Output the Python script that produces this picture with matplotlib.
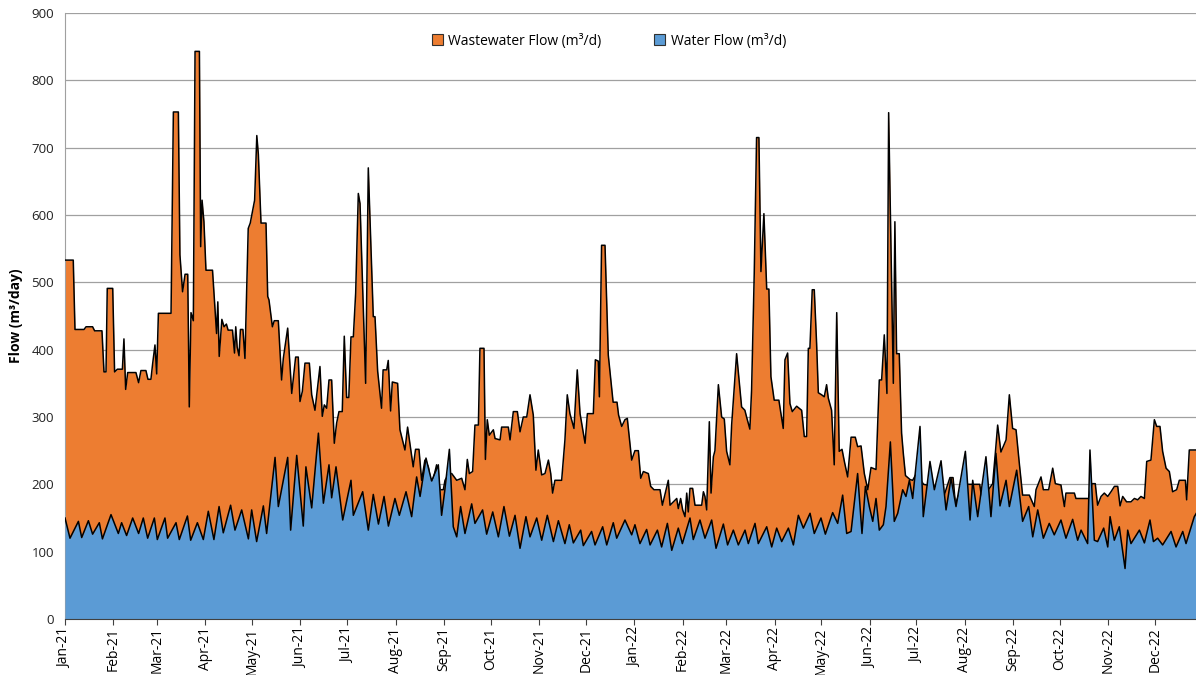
import pandas as pd
import matplotlib.pyplot as plt
import matplotlib.dates as mdates
from matplotlib.patches import Patch

plt.rcParams["font.family"] = ["Open Sans", "DejaVu Sans"]

# days since 2021-01-01 (m3/d)
ww_day = [
    0, 5.3, 6.4, 12.2, 13.5, 17.7, 19, 23.7, 25, 26.3, 27.1, 30.6, 31.8, 33.6, 36.8, 37.8,
    38.9, 40.2, 45.5, 47.2, 48.7, 51.9, 53.2, 55.1, 56.2, 57.7, 58.8, 59.9, 68, 69.5, 72.7,
    73.7, 75.4, 77, 78.7, 79.7, 80.8, 82.3, 83.4, 86.2, 87, 87.9, 89.1, 90.4, 94.6, 97.2, 98,
    98.9, 100.6, 102, 103.5, 104.6, 107.4, 108.7, 109.5, 110.4, 111.6, 112.5, 114.1, 115.4,
    117.5, 118.8, 121.6, 123, 124, 125.7, 128.9, 130, 130.8, 133, 134.2, 136.8, 138.9, 140,
    142.8, 145.4, 147.9, 149.6, 150.7, 152.2, 153.9, 156.7, 158.2, 160.3, 163.5, 165, 166.3,
    167.8, 169.3, 171, 172.7, 174.2, 175.7, 177.8, 179.1, 180.6, 182, 183.4, 184.9, 186.4,
    188.1, 189.2, 192.8, 194.5, 197.7, 198.8, 200.5, 203, 204, 206.3, 207.3, 208.8, 209.9,
    213.3, 214.8, 218, 219.7, 223.3, 224.8, 227, 228.7, 230.8, 233, 235.1, 238.3, 240.5,
    242.6, 243.7, 246, 248, 251.2, 254.4, 256.5, 258, 259.3, 261.4, 262.9, 265.1, 266.1,
    268.7, 269.6, 270.8, 272.1, 274.7, 275.8, 279, 280, 284.3, 285.4, 287.5, 290.1, 291.8,
    293.9, 296.1, 298.2, 300.3, 302, 303.5, 305.7, 307.8, 310, 311.5, 312.7, 314.2, 318.5,
    320.6, 322.1, 323.8, 326.4, 328.5, 330.3, 333.5, 335, 338.8, 340.1, 342, 342.7, 344.1,
    346.3, 348.4, 351.5, 354, 355, 357, 359.1, 360.6, 363.4, 365.5, 367.7, 369.2, 370.9,
    374.1, 375.6, 377.7, 381.6, 383.1, 386.9, 388, 392.3, 393.3, 394.8, 396.1, 397.6, 398.7,
    399.7, 400.8, 402.5, 404, 408.3, 409.4, 410.4, 411.5, 413.2, 414.3, 415.8, 416.8, 419,
    421.1, 422.8, 424.3, 426.4, 427.5, 430.7, 433.9, 436, 437.1, 439.2, 440.3, 442, 443.5,
    445, 446.3, 448.2, 450, 451.4, 452.7, 454.8, 457.8, 460.6, 461.7, 463.4, 464.9, 466.4,
    469.2, 472.4, 474.1, 475.6, 476.7, 477.7, 479.2, 480.5, 482, 483.1, 485.2, 486.9, 488.4,
    489.5, 491.6, 493.3, 494.9, 496.5, 498.3, 499.8, 501.9, 504.1, 506.8, 508.3, 510.5,
    512.6, 514.8, 516.9, 520.1, 522.2, 523.7, 525.4, 527.1, 528.2, 531.2, 532.2, 533.3, 535,
    536.5, 537.6, 539, 542, 543.6, 546, 550.6, 557, 561, 563, 567.5, 569.5, 571, 575, 579,
    586.6, 588, 594.9, 596.6, 598.1, 600.2, 603.5, 605.6, 607.7, 609.9, 612, 614.1, 618.4,
    621.6, 622.7, 625.9, 627.4, 630.8, 633.4, 635.1, 638.7, 640.9, 641.9, 647.3, 648.3,
    656.5, 658.6, 660.7, 662.2, 664.4, 666.5, 668.7, 670.8, 673, 675.1, 676.6, 678.3, 680.8,
    683.6, 685.8, 687.9, 690, 692.2, 693.7, 696.4, 698.6, 700.1, 702.2, 703.9, 706.1, 708.2,
    710.3, 712.9, 714.6, 718.5, 719.3, 721, 725.5,
]
ww_val = [
    533, 533, 430, 430, 434, 434, 428, 428, 367, 367, 491, 491, 367, 371, 371, 416,
    341, 366, 366, 351, 369, 369, 356, 356, 379, 407, 364, 454, 454, 753, 753,
    541, 486, 512, 512, 315, 455, 443, 843, 843, 553, 622, 590, 518, 518, 424, 471,
    390, 445, 434, 438, 429, 429, 395, 434, 404, 391, 430, 430, 387,
    580, 588, 622, 718, 690, 588, 588, 479, 474, 434, 443, 443, 355, 387,
    432, 335, 389, 389, 323, 338, 380, 380, 333, 310, 375, 301, 318,
    313, 355, 355, 261, 291, 308, 308, 420, 329, 329, 419, 419, 484,
    632, 617, 350, 670, 449, 449, 368, 313, 370, 370, 384, 309, 352,
    350, 281, 251, 285, 226, 252, 252, 206, 236, 226, 197, 229, 192,
    192, 206, 215, 216, 206, 209, 192, 237, 216, 219, 288, 288, 402,
    402, 237, 296, 273, 281, 268, 266, 285, 285, 266, 308, 308, 278,
    300, 300, 333, 303, 221, 251, 214, 216, 236, 216, 187, 206, 206,
    266, 333, 305, 283, 370, 305, 261, 305, 305, 385, 383, 330, 555,
    555, 392, 322, 322, 303, 286, 296, 298, 236, 250, 250, 209, 219,
    216, 197, 192, 192, 169, 206, 169, 179, 164, 179, 162, 152, 187,
    159, 194, 194, 169, 169, 189, 182, 162, 293, 187, 241, 250, 348,
    300, 297, 249, 229, 288, 394, 315, 310, 300, 282, 340, 513, 715,
    715, 516, 602, 490, 490, 360, 325, 325, 283, 385, 395, 320, 308,
    316, 310, 271, 271, 402, 402, 489, 489, 409, 336, 333, 330, 348,
    328, 310, 229, 455, 249, 252, 234, 211, 270, 270, 256, 257,
    216, 192, 225, 222, 355, 355, 422, 335, 752, 350, 590, 394, 394,
    276, 246, 213, 207, 206, 216, 200, 197, 197, 178, 210, 210, 171, 195, 200,
    200, 178, 201, 246, 288, 248, 266, 333, 283, 281, 231, 184, 184,
    167, 192, 211, 192, 192, 224, 201, 199, 167, 187, 187, 179,
    179, 201, 201, 169, 182, 187, 182, 189, 197, 197, 168, 182, 174,
    174, 179, 177, 182, 179, 234, 236, 296, 286, 286, 249, 224, 219,
    189, 192, 206, 206, 177, 251, 251,
]

water_day = [
    0, 3.2, 8.6, 10.7, 15, 17.7, 22, 24, 29.5, 34.2, 36.3, 39.5, 43.4, 47.2, 50.2, 53,
    57.3, 59.2, 64.1, 65.8, 71.2, 73.3, 78.5, 80.6, 84.9, 88.7, 91.9, 95.5, 98.8, 101.5,
    106.2, 109, 113.3, 117.6, 119.7, 122.9, 127.2, 129.3, 134.7, 136.8, 142.8, 144.7, 148.6,
    152.8, 154.5, 158.2, 162.5, 165.7, 169.3, 171, 173.8, 178.1, 183.4, 184.9, 190.9, 194.5,
    197.7, 201, 204.6, 207.4, 211.6, 214.4, 218.7, 222.3, 225.5, 227.7, 231.5, 235.1, 239.4,
    241.5, 243.5, 246.5, 249, 251.2, 253.7, 256.5, 260.8, 262.9, 267.8, 270.4, 274.3, 277.9,
    281.5, 285, 288.6, 291.8, 295.6, 298.2, 302.5, 305.7, 309.3, 313.2, 316.4, 320.6, 323.4,
    326, 330.7, 332.4, 337.7, 339.9, 344.8, 347.4, 351.6, 353.8, 359.1, 363.4, 365.5, 368.7,
    373, 375.2, 379.9, 382.6, 386.3, 389.1, 393.3, 395.9, 400.8, 402.9, 407.2, 410.4, 414.7,
    417.5, 422.2, 424.9, 428.6, 431.8, 436.1, 438.2, 442.5, 444.6, 450, 453.2, 456.4, 459.6,
    463.9, 467.1, 470.3, 473.5, 477.8, 480.5, 484.8, 487.6, 492.3, 495.5, 498.7, 501.3,
    504.1, 508.3, 511.1, 513.3, 515.8, 518, 520.1, 522.2, 524.8, 526.5, 529.3, 531.8, 534,
    537.2, 539.3, 541.5, 543.6, 548.3, 550.4, 554.7, 557.5, 561.8, 565, 568.2, 571.4, 577.4,
    580.4, 582.1, 585.3, 590.6, 593.8, 597, 599.6, 603.5, 605.6, 610.3, 614.1, 618, 620.6,
    623.8, 627.4, 631.2, 634.4, 638.7, 641.9, 646.2, 649.4, 651.6, 655.8, 657.3, 660.1,
    662.2, 666.1, 668.7, 670.2, 672.9, 676.1, 679.8, 681.5, 683.6, 689, 692.2, 695.8, 698,
    700.7, 703.9, 709.3, 712.5, 716.8, 718.9, 724.2, 725.5,
]
water_val = [
    150, 120, 145, 121, 146, 126, 143, 119, 155, 127, 143, 124, 150, 127, 150, 120,
    150, 118, 150, 120, 143, 118, 153, 117, 143, 118, 160, 118, 167, 128,
    169, 132, 162, 119, 162, 115, 168, 127, 240, 167, 240, 132, 243,
    138, 226, 165, 276, 172, 229, 180, 226, 147, 206, 154, 189, 132,
    185, 141, 182, 138, 179, 154, 189, 152, 211, 182, 239, 205, 229,
    154, 190, 252, 137, 122, 167, 127, 171, 142, 162, 126, 159, 122,
    167, 123, 154, 105, 152, 122, 150, 117, 154, 115, 146, 112, 140,
    113, 132, 109, 130, 110, 137, 110, 143, 120, 147, 125, 140, 112,
    133, 110, 132, 107, 142, 102, 135, 112, 150, 118, 147, 120, 147,
    105, 141, 110, 132, 110, 132, 112, 142, 112, 137, 107, 135, 115,
    135, 110, 154, 135, 157, 127, 150, 126, 158, 142, 184, 127,
    130, 216, 127, 197, 167, 145, 179, 132, 140, 167, 263, 145, 157,
    192, 182, 206, 179, 286, 152, 234, 192, 235, 162, 209, 167, 249,
    147, 206, 152, 241, 152, 246, 168, 206, 167, 221, 145, 167, 122,
    162, 120, 142, 125, 147, 120, 148, 117, 132, 112, 251, 117,
    115, 135, 107, 152, 117, 137, 75, 132, 112, 132, 113, 147, 115,
    120, 110, 130, 107, 130, 112, 152, 157,
]

start = pd.Timestamp("2021-01-01")
ww_dates = start + pd.to_timedelta(ww_day, unit="D")
water_dates = start + pd.to_timedelta(water_day, unit="D")

orange = "#ED7D31"
blue = "#5B9BD5"

fig = plt.figure(figsize=(11.96, 6.75), dpi=100)
ax = fig.add_axes([65 / 1196, 1 - 619 / 675, 1 - 65 / 1196, 606 / 675])

ax.fill_between(ww_dates, 0, ww_val, color=orange, lw=0, zorder=2)
ax.plot(ww_dates, ww_val, color="black", lw=1.1, zorder=3)
ax.fill_between(water_dates, 0, water_val, color=blue, lw=0, zorder=4)
ax.plot(water_dates, water_val, color="black", lw=1.1, zorder=5)

ax.set_ylim(0, 900)
ax.set_yticks(range(0, 901, 100))
ax.set_xlim(start, start + pd.Timedelta(days=725.3))
ax.xaxis.set_major_locator(mdates.MonthLocator())
ax.xaxis.set_major_formatter(mdates.DateFormatter("%b-%y"))
ax.tick_params(axis="x", rotation=90, labelsize=10, length=4, color="#404040", pad=2)
ax.tick_params(axis="y", labelsize=9.5, length=0, pad=8, labelcolor="#222222")

ax.grid(axis="y", color="#A0A0A0", lw=0.9)
ax.set_axisbelow(True)
for s in ["top", "right"]:
    ax.spines[s].set_visible(False)
ax.spines["left"].set_color("#A0A0A0")
ax.spines["bottom"].set_color("#404040")
ax.spines["bottom"].set_zorder(6)

ax.set_ylabel("Flow (m³/day)", fontsize=10, fontweight="bold", labelpad=6)

handles = [
    Patch(facecolor=orange, edgecolor="#303030", lw=0.8, label="Wastewater Flow (m³/d)"),
    Patch(facecolor=blue, edgecolor="#303030", lw=0.8, label="Water Flow (m³/d)"),
]
fig.legend(handles=handles, loc="center", bbox_to_anchor=(609 / 1196, 1 - 41 / 675),
           ncol=2, frameon=False, fontsize=10, handlelength=0.8, handleheight=0.8,
           handletextpad=0.4, columnspacing=3.8)

fig.savefig("out.png", dpi=100)
